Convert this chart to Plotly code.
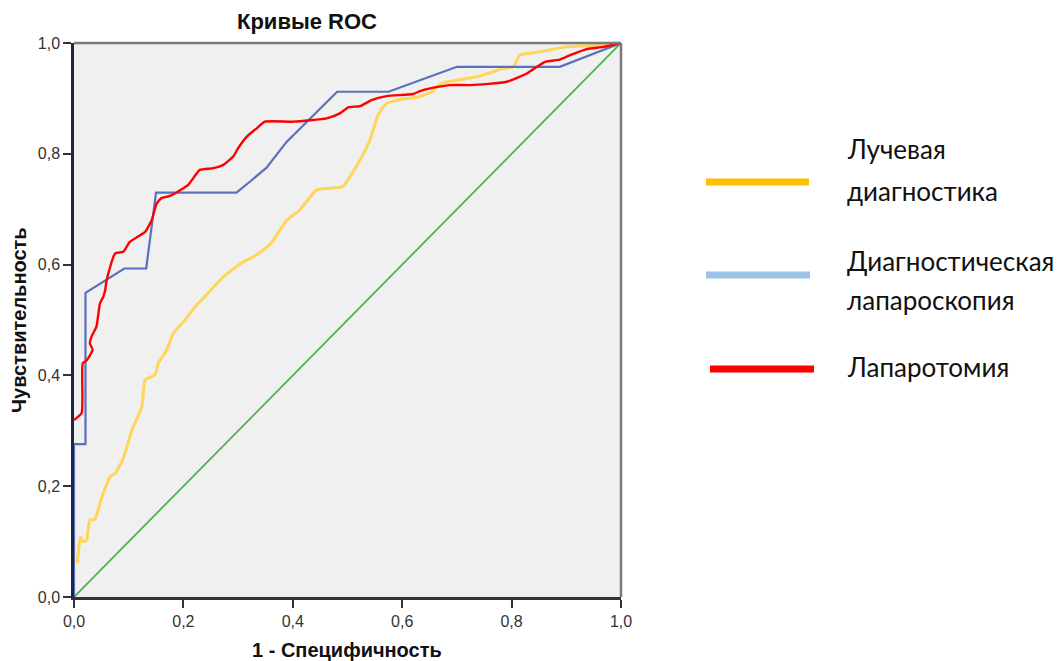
import plotly.graph_objects as go

# ROC curves: 1 - specificity (x) vs sensitivity (y)
rad_x = [0.006, 0.0097, 0.012, 0.017, 0.023, 0.029, 0.038, 0.0475, 0.0536, 0.066, 0.075, 0.090,
         0.102, 0.108, 0.124, 0.130, 0.148, 0.154, 0.1695, 0.1815, 0.203, 0.224, 0.236, 0.273,
         0.3095, 0.328, 0.358, 0.389, 0.413, 0.4436, 0.468, 0.492, 0.5046, 0.523, 0.541, 0.556,
         0.5716, 0.596, 0.6265, 0.654, 0.672, 0.736, 0.785, 0.803, 0.815, 0.852, 0.9007, 0.9555, 1.0]
rad_y = [0.061, 0.097, 0.108, 0.100, 0.102, 0.139, 0.140, 0.169, 0.187, 0.217, 0.223, 0.250,
         0.289, 0.307, 0.343, 0.392, 0.401, 0.422, 0.446, 0.476, 0.500, 0.527, 0.539, 0.578,
         0.605, 0.614, 0.636, 0.680, 0.699, 0.735, 0.738, 0.741, 0.759, 0.789, 0.825, 0.870,
         0.891, 0.898, 0.902, 0.912, 0.927, 0.939, 0.954, 0.957, 0.978, 0.984, 0.993, 0.996, 1.0]

lap_x = [0.0, 0.0, 0.021, 0.021, 0.092, 0.132, 0.150, 0.297, 0.322, 0.352, 0.389, 0.481,
         0.575, 0.700, 0.888, 0.989, 1.0]
lap_y = [0.0, 0.276, 0.276, 0.549, 0.593, 0.593, 0.730, 0.730, 0.750, 0.775, 0.822, 0.912,
         0.912, 0.957, 0.957, 0.996, 1.0]

lpt_x = [0.0, 0.014, 0.016, 0.023, 0.034, 0.029, 0.032, 0.041, 0.0475, 0.0536, 0.057, 0.0597,
         0.075, 0.090, 0.102, 0.1176, 0.130, 0.142, 0.151, 0.160, 0.1755, 0.200, 0.209, 0.218,
         0.230, 0.255, 0.273, 0.291, 0.300, 0.316, 0.334, 0.349, 0.401, 0.462, 0.486, 0.5015,
         0.523, 0.544, 0.5716, 0.620, 0.6325, 0.651, 0.687, 0.724, 0.791, 0.828, 0.861, 0.888,
         0.907, 0.937, 0.968, 1.0]
lpt_y = [0.3195, 0.332, 0.422, 0.427, 0.446, 0.458, 0.470, 0.488, 0.530, 0.542, 0.554, 0.572,
         0.620, 0.623, 0.641, 0.651, 0.659, 0.680, 0.710, 0.720, 0.724, 0.738, 0.744, 0.756,
         0.771, 0.774, 0.780, 0.795, 0.810, 0.831, 0.846, 0.858, 0.858, 0.864, 0.873, 0.884,
         0.886, 0.897, 0.904, 0.908, 0.913, 0.918, 0.924, 0.924, 0.930, 0.945, 0.966, 0.970,
         0.978, 0.989, 0.993, 1.0]

ref_x = [0.0, 1.0]
ref_y = [0.0, 1.0]

ticks = [0.0, 0.2, 0.4, 0.6, 0.8, 1.0]
tick_text = ["0,0", "0,2", "0,4", "0,6", "0,8", "1,0"]

legend_lines = [["Лучевая", "диагностика"], ["Диагностическая", "лапароскопия"], ["Лапаротомия"]]
legend_colors = ["#FFC000", "#9DC3E6", "#FF0000"]

fig = go.Figure()
fig.add_trace(go.Scatter(x=ref_x, y=ref_y, mode="lines", line=dict(color="#4CB34F", width=1.8)))
fig.add_trace(go.Scatter(x=rad_x, y=rad_y, mode="lines",
                         line=dict(color="#FFD55A", width=3, shape="spline", smoothing=0.5)))
fig.add_trace(go.Scatter(x=lap_x, y=lap_y, mode="lines", line=dict(color="#5A70BE", width=2.2)))
fig.add_trace(go.Scatter(x=lpt_x, y=lpt_y, mode="lines",
                         line=dict(color="#FF0000", width=2.4, shape="spline", smoothing=0.5)))

W, H = 1061, 661
L, R, T, B = 74, 440, 43, 64
pw = W - L - R
ph = H - T - B


def px_x(p):
    return (p - L) / pw


def px_y(p):
    return (H - B - p) / ph


axis_common = dict(
    range=[0, 1], tickvals=ticks, ticktext=tick_text, ticks="outside", ticklen=8,
    tickwidth=2, tickcolor="#333333", showline=True, linewidth=2.5,
    showgrid=False, zeroline=False, automargin=False,
    tickfont=dict(family="Liberation Sans", size=16, color="#333333"),
)

fig.update_layout(
    width=W, height=H, margin=dict(l=L, r=R, t=T, b=B),
    paper_bgcolor="white", plot_bgcolor="#F0F0F0", showlegend=False,
    xaxis=dict(**axis_common, linecolor="#333333"),
    yaxis=dict(**axis_common, linecolor="#1E2740"),
)

# top and right frame
fig.add_shape(type="line", xref="paper", yref="paper", x0=0, x1=1, y0=1, y1=1,
              line=dict(color="#7A7A7A", width=2.5))
fig.add_shape(type="line", xref="paper", yref="paper", x0=1, x1=1, y0=0, y1=1,
              line=dict(color="#7A7A7A", width=2.5))

# chart title and axis titles
fig.add_annotation(xref="paper", yref="paper", x=px_x(307), y=px_y(22), text="<b>Кривые ROC</b>",
                   showarrow=False, xanchor="center", yanchor="middle",
                   font=dict(family="Liberation Sans", size=22, color="#111111"))
fig.add_annotation(xref="paper", yref="paper", x=px_x(347), y=px_y(650),
                   text="<b>1 - Специфичность</b>", showarrow=False, xanchor="center",
                   yanchor="middle", font=dict(family="Liberation Sans", size=20, color="#111111"))
fig.add_annotation(xref="paper", yref="paper", x=px_x(19), y=px_y(320),
                   text="<b>Чувствительность</b>", showarrow=False, textangle=-90,
                   xanchor="center", yanchor="middle",
                   font=dict(family="Liberation Sans", size=20, color="#111111"))

# legend panel drawn to the right of the plot
bar_rows = [(706, 809, 182), (706, 810, 275), (710, 814, 369)]
text_rows = [[149, 191], [261, 300], [367]]
for (x0, x1, yb), ys, lines, col in zip(bar_rows, text_rows, legend_lines, legend_colors):
    fig.add_shape(type="line", xref="paper", yref="paper", x0=px_x(x0), x1=px_x(x1),
                  y0=px_y(yb), y1=px_y(yb), line=dict(color=col, width=7))
    for ty, txt in zip(ys, lines):
        fig.add_annotation(xref="paper", yref="paper", x=px_x(845), y=px_y(ty), text=txt,
                           showarrow=False, xanchor="left", yanchor="middle", align="left",
                           font=dict(family="Lato", size=26, color="#111111"))

fig.write_html("out.html")
